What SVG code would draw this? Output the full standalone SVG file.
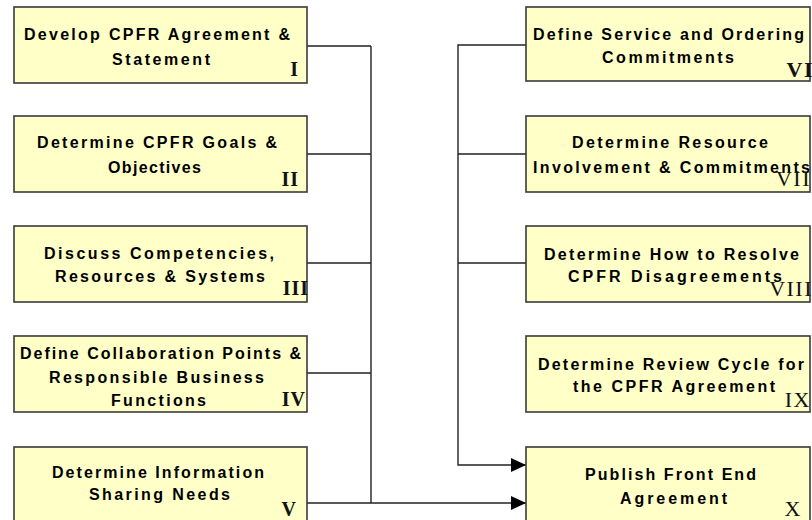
<svg xmlns="http://www.w3.org/2000/svg" width="812" height="520" viewBox="0 0 812 520">
  <style>
    .box { fill: #ffffc8; stroke: #3a3a3a; stroke-width: 1.6; }
    .lbl { font-family: "Liberation Sans", Arial, sans-serif; font-weight: bold; font-size: 16px; fill: #000; }
    .num { font-family: "Liberation Serif", "Times New Roman", serif; font-weight: bold; font-size: 20px; letter-spacing: 1px; fill: #111; text-anchor: end; }
    .numR { font-family: "Liberation Serif", "Times New Roman", serif; font-size: 22px; letter-spacing: 1.5px; fill: #111; text-anchor: end; }
    .wire { fill: none; stroke: #222; stroke-width: 1.4; }
  </style>
  <defs>
    <marker id="arrow" markerUnits="userSpaceOnUse" markerWidth="15" markerHeight="14" refX="15" refY="7" orient="auto">
      <path d="M0,0 L15,7 L0,14 Z" fill="#000"/>
    </marker>
  </defs>
  <rect width="812" height="520" fill="#fff"/>

  <!-- connectors -->
  <g id="connectors">
    <path class="wire" d="M307,46 H371 M307,154 H371 M307,263 H371 M307,373 H371 M371,46 V503"/>
    <path class="wire" d="M307,503 H526" marker-end="url(#arrow)"/>
    <path class="wire" d="M526,154 H458 M526,263 H458"/>
    <path class="wire" d="M526,45 H458 V465 H526" marker-end="url(#arrow)"/>
  </g>

  <!-- left column -->
  <g id="step-I">
    <rect class="box" x="14" y="7" width="293" height="76"/>
    <text class="lbl" x="24" y="40" textLength="266" lengthAdjust="spacing">Develop CPFR Agreement &amp;</text>
    <text class="lbl" x="112" y="65" textLength="98" lengthAdjust="spacing">Statement</text>
    <text class="num" x="299" y="76">I</text>
  </g>
  <g id="step-II">
    <rect class="box" x="14" y="116" width="293" height="76"/>
    <text class="lbl" x="37" y="148" textLength="240" lengthAdjust="spacing">Determine CPFR Goals &amp;</text>
    <text class="lbl" x="108" y="173" textLength="93" lengthAdjust="spacing">Objectives</text>
    <text class="num" x="299" y="186">II</text>
  </g>
  <g id="step-III">
    <rect class="box" x="14" y="226" width="293" height="76"/>
    <text class="lbl" x="44" y="259" textLength="230" lengthAdjust="spacing">Discuss Competencies,</text>
    <text class="lbl" x="55" y="282" textLength="210" lengthAdjust="spacing">Resources &amp; Systems</text>
    <text class="num" x="309" y="295">III</text>
  </g>
  <g id="step-IV">
    <rect class="box" x="14" y="336" width="293" height="76"/>
    <text class="lbl" x="20" y="359" textLength="281" lengthAdjust="spacing">Define Collaboration Points &amp;</text>
    <text class="lbl" x="49" y="383" textLength="215" lengthAdjust="spacing">Responsible Business</text>
    <text class="lbl" x="111" y="406" textLength="95" lengthAdjust="spacing">Functions</text>
    <text class="num" x="306" y="406">IV</text>
  </g>
  <g id="step-V">
    <rect class="box" x="14" y="447" width="293" height="90"/>
    <text class="lbl" x="52" y="478" textLength="212" lengthAdjust="spacing">Determine Information</text>
    <text class="lbl" x="89" y="500" textLength="141" lengthAdjust="spacing">Sharing Needs</text>
    <text class="num" x="297" y="516">V</text>
  </g>

  <!-- right column -->
  <g id="step-VI">
    <rect class="box" x="526" y="7" width="284" height="74"/>
    <text class="lbl" x="533" y="40" textLength="271" lengthAdjust="spacing">Define Service and Ordering</text>
    <text class="lbl" x="602" y="63" textLength="132" lengthAdjust="spacing">Commitments</text>
    <text class="numR" x="814" y="77" font-weight="bold">VI</text>
  </g>
  <g id="step-VII">
    <rect class="box" x="526" y="116" width="284" height="76"/>
    <text class="lbl" x="572" y="148" textLength="196" lengthAdjust="spacing">Determine Resource</text>
    <text class="lbl" x="533" y="173" textLength="277" lengthAdjust="spacing">Involvement &amp; Commitments</text>
    <text class="numR" x="811" y="186">VII</text>
  </g>
  <g id="step-VIII">
    <rect class="box" x="526" y="226" width="284" height="76"/>
    <text class="lbl" x="544" y="260" textLength="255" lengthAdjust="spacing">Determine How to Resolve</text>
    <text class="lbl" x="568" y="282" textLength="214" lengthAdjust="spacing">CPFR Disagreements</text>
    <text class="numR" x="813" y="296">VIII</text>
  </g>
  <g id="step-IX">
    <rect class="box" x="526" y="336" width="284" height="76"/>
    <text class="lbl" x="538" y="370" textLength="266" lengthAdjust="spacing">Determine Review Cycle for</text>
    <text class="lbl" x="573" y="392" textLength="202" lengthAdjust="spacing">the CPFR Agreement</text>
    <text class="numR" x="811" y="407">IX</text>
  </g>
  <g id="step-X">
    <rect class="box" x="526" y="447" width="284" height="90"/>
    <text class="lbl" x="585" y="480" textLength="171" lengthAdjust="spacing">Publish Front End</text>
    <text class="lbl" x="620" y="504" textLength="107" lengthAdjust="spacing">Agreement</text>
    <text class="numR" x="802" y="516">X</text>
  </g>
</svg>
